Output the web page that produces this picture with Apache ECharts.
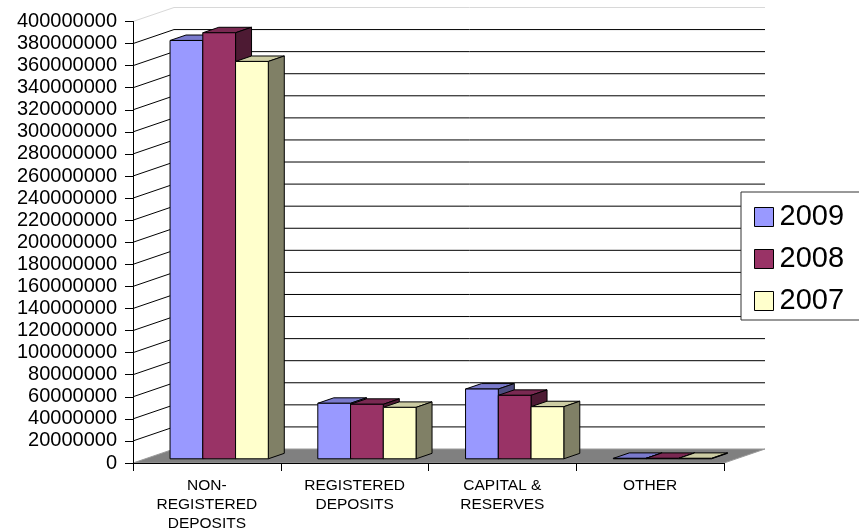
<!DOCTYPE html>
<html>
<head>
<meta charset="utf-8">
<script src="https://cdn.jsdelivr.net/npm/echarts@6/dist/echarts.min.js"></script>
<style>
html,body{margin:0;padding:0;background:#fff;}
#chart{width:859px;height:529px;}
</style>
</head>
<body>
<div id="chart"></div>
<script>
// ---- data ----
const categories = ['NON-\nREGISTERED\nDEPOSITS', 'REGISTERED\nDEPOSITS', 'CAPITAL &\nRESERVES', 'OTHER'];
const years = ['2009', '2008', '2007'];
const v2009 = [379000000, 50300000, 63200000, 400000];
const v2008 = [386000000, 49400000, 57500000, 400000];
const v2007 = [360000000, 46600000, 47200000, 400000];
const yTicks = [0, 20000000, 40000000, 60000000, 80000000, 100000000, 120000000, 140000000,
  160000000, 180000000, 200000000, 220000000, 240000000, 260000000, 280000000, 300000000,
  320000000, 340000000, 360000000, 380000000, 400000000];

// ---- styling ----
const frontColors = ['#9999FF', '#993366', '#FFFFCC'];
const topColors = ['#7A7ACC', '#7A2952', '#CCCCA3'];
const sideColors = ['#4D4D80', '#4D1A33', '#808066'];
const DX = 41, DY = -14;       // depth vector of the 3D box
const F0 = 0.3, F1 = 0.69;     // bar depth (front/back fraction)
const GROUP = 0.665;           // fraction of category used by the bar group
const FONT = '"Liberation Sans", Arial, sans-serif';

const chart = echarts.init(document.getElementById('chart'));

function barRender(sIdx) {
  return function (params, api) {
    const cat = api.value(0), val = api.value(1);
    const band = api.size([1, 0])[0];
    const top = api.coord([cat, val]);
    const base = api.coord([cat, 0]);
    const bw = band * GROUP / 3;
    const xL = top[0] - band * GROUP / 2 + sIdx * bw;
    const xR = xL + bw;
    const yT = top[1], yB = base[1];
    const fx = F0 * DX, fy = F0 * DY, bx = F1 * DX, by = F1 * DY;
    const st = { stroke: '#000', lineWidth: 1 };
    return {
      type: 'group',
      children: [
        { type: 'polygon', shape: { points: [[xL + fx, yT + fy], [xR + fx, yT + fy], [xR + bx, yT + by], [xL + bx, yT + by]] },
          style: Object.assign({ fill: topColors[sIdx] }, st) },
        { type: 'polygon', shape: { points: [[xR + fx, yT + fy], [xR + bx, yT + by], [xR + bx, yB + by], [xR + fx, yB + fy]] },
          style: Object.assign({ fill: sideColors[sIdx] }, st) },
        { type: 'polygon', shape: { points: [[xL + fx, yT + fy], [xR + fx, yT + fy], [xR + fx, yB + fy], [xL + fx, yB + fy]] },
          style: Object.assign({ fill: frontColors[sIdx] }, st) }
      ]
    };
  };
}

function wallRender(params, api) {
  const v = api.value(1);
  const cs = params.coordSys;
  const x0 = cs.x, x1 = cs.x + cs.width;
  const p = api.coord([0, v]);
  const y = p[1];
  if (v === 0) {
    return {
      type: 'polygon',
      shape: { points: [[x0, y], [x1, y], [x1 + DX, y + DY], [x0 + DX, y + DY]] },
      style: { fill: '#808080', stroke: '#9a9a9a', lineWidth: 1 }
    };
  }
  const isTop = v === yTicks[yTicks.length - 1];
  return {
    type: 'polyline',
    shape: { points: [[x0, y], [x0 + DX, y + DY], [x1 + DX, y + DY]] },
    style: { stroke: isTop ? '#d8d8d8' : '#000', lineWidth: 1, fill: null, lineDash: null }
  };
}

const seriesData = [v2009, v2008, v2007];
const series = [{
  type: 'custom',
  name: 'walls',
  z: 1,
  renderItem: wallRender,
  data: yTicks.map(v => [0, v]),
  silent: true
}];
years.forEach((yr, i) => {
  series.push({
    type: 'custom',
    name: yr,
    z: 2 + i,
    itemStyle: { color: frontColors[i], borderColor: '#000', borderWidth: 1 },
    renderItem: barRender(i),
    data: seriesData[i].map((v, c) => [c, v])
  });
});

chart.setOption({
  backgroundColor: '#fff',
  animation: false,
  grid: { left: 133, right: 135, top: 21.5, bottom: 66, containLabel: false, outerBoundsMode: 'none' },
  xAxis: {
    type: 'category',
    data: categories,
    z: 10,
    axisLine: { lineStyle: { color: '#000', width: 1 } },
    axisTick: { show: true, length: 8, lineStyle: { color: '#000' } },
    axisLabel: { color: '#000', fontSize: 15.5, fontFamily: FONT, lineHeight: 19, margin: 13, interval: 0 },
    splitLine: { show: false }
  },
  yAxis: {
    type: 'value',
    min: 0, max: 400000000, interval: 20000000,
    z: 10,
    axisLine: { show: true, lineStyle: { color: '#000', width: 1 } },
    axisTick: { show: true, length: 8, lineStyle: { color: '#000' } },
    axisLabel: { color: '#000', fontSize: 20, fontFamily: FONT, margin: 16, formatter: v => String(v) },
    splitLine: { show: false }
  },
  legend: {
    data: years,
    orient: 'vertical',
    left: 741, top: 192,
    padding: [10, 30, 4, 13],
    itemGap: 12,
    itemWidth: 19, itemHeight: 19,
    icon: 'rect',
    itemStyle: { borderColor: '#000', borderWidth: 1 },
    textStyle: { color: '#000', fontSize: 29, fontFamily: FONT, lineHeight: 30, padding: [0, 0, 0, 1] },
    borderColor: '#333', borderWidth: 1,
    backgroundColor: '#fff'
  },
  series: series
});
</script>
</body>
</html>
